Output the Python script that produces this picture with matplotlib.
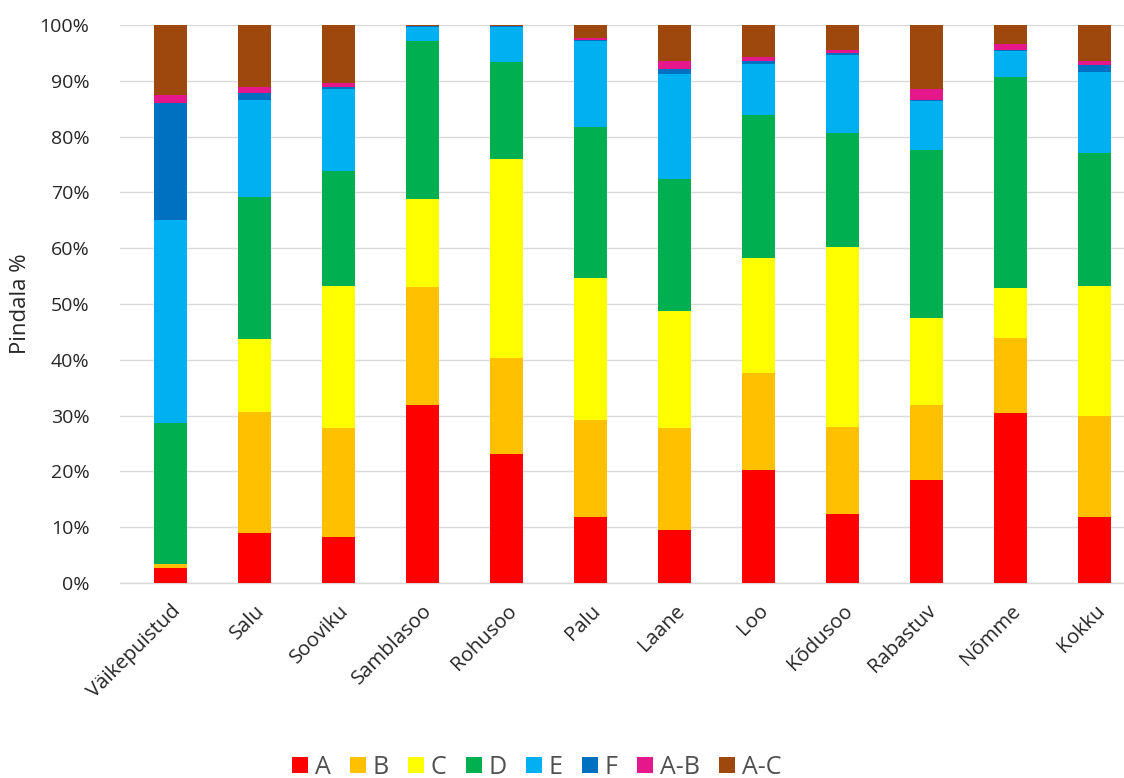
import matplotlib
matplotlib.use("Agg")
import matplotlib.pyplot as plt
import numpy as np
from matplotlib.ticker import FuncFormatter, MultipleLocator

plt.rcParams['font.family'] = ['Open Sans', 'DejaVu Sans']

categories = ["Väikepuistud", "Salu", "Sooviku", "Samblasoo", "Rohusoo", "Palu",
              "Laane", "Loo", "Kõdusoo", "Rabastuv", "Nõmme", "Kokku"]

A  = [2.7,  8.9,  8.2, 31.9, 23.2, 11.8,  9.5, 20.3, 12.3, 18.5, 30.4, 11.8]
B  = [0.7, 21.8, 19.6, 21.1, 17.1, 17.5, 18.3, 17.4, 15.7, 13.4, 13.5, 18.1]
C  = [0.0, 13.0, 25.5, 15.8, 35.7, 25.4, 20.9, 20.6, 32.2, 15.6,  8.9, 23.4]
D  = [25.2, 25.4, 20.5, 28.3, 17.3, 27.1, 23.7, 25.6, 20.4, 30.1, 37.8, 23.7]
E  = [36.5, 17.5, 14.7,  2.5,  6.4, 15.3, 18.9,  9.1, 14.1,  8.8,  4.7, 14.5]
F  = [21.0,  1.2,  0.4,  0.2,  0.1,  0.3,  0.9,  0.5,  0.3,  0.2,  0.3,  1.3]
AB = [1.4,  1.1,  0.7,  0.1,  0.1,  0.3,  1.3,  0.7,  0.5,  1.9,  1.0,  0.7]
AC = [12.5, 11.1, 10.4,  0.1,  0.1,  2.3,  6.5,  5.8,  4.5, 11.5,  3.4,  6.5]

series_names = ["A", "B", "C", "D", "E", "F", "A-B", "A-C"]
series_values = [A, B, C, D, E, F, AB, AC]
colors = ["#FF0000", "#FFC000", "#FFFF00", "#00B050", "#00B0F0", "#0070C0", "#E6178A", "#9E480E"]

fig = plt.figure(figsize=(11.24, 7.78), dpi=100)
ax = fig.add_axes([120/1124, 1-583/778, 1-120/1124, (583-25)/778])

x = np.arange(len(categories))
bottom = np.zeros(len(categories))
for name, vals, col in zip(series_names, series_values, colors):
    v = np.array(vals) / 100.0
    ax.bar(x, v, width=0.39, bottom=bottom, color=col, label=name, zorder=3, linewidth=0)
    bottom += v

ax.set_ylim(0, 1.0)
ax.set_xlim(-0.6, 11.35)
ax.yaxis.set_major_locator(MultipleLocator(0.1))
ax.yaxis.set_major_formatter(FuncFormatter(lambda v, p: f"{v*100:.0f}%"))
ax.grid(axis='y', color='#D9D9D9', linewidth=1.0, zorder=0)
for s in ['top', 'right', 'left']:
    ax.spines[s].set_visible(False)
ax.spines['bottom'].set_color('#D9D9D9')
ax.spines['bottom'].set_linewidth(1.0)
ax.tick_params(axis='both', length=0, labelsize=14, colors='#262626')
ax.tick_params(axis='y', pad=22)
ax.set_xticks(x)
ax.set_xticklabels(categories, rotation=45, ha='right', rotation_mode='anchor', fontsize=14.7)
ax.tick_params(axis='x', pad=13)
ax.set_ylabel("Pindala %", fontsize=16, color='#262626', labelpad=6)

handles, labels = ax.get_legend_handles_labels()
fig.legend(handles, labels, loc='center', ncol=8, frameon=False,
           bbox_to_anchor=(536.5/1124, 1-767.5/778), fontsize=18,
           handlelength=0.64, handleheight=0.64, handletextpad=0.28,
           columnspacing=0.76, labelcolor='#505050')

fig.savefig("out.png", dpi=100)
